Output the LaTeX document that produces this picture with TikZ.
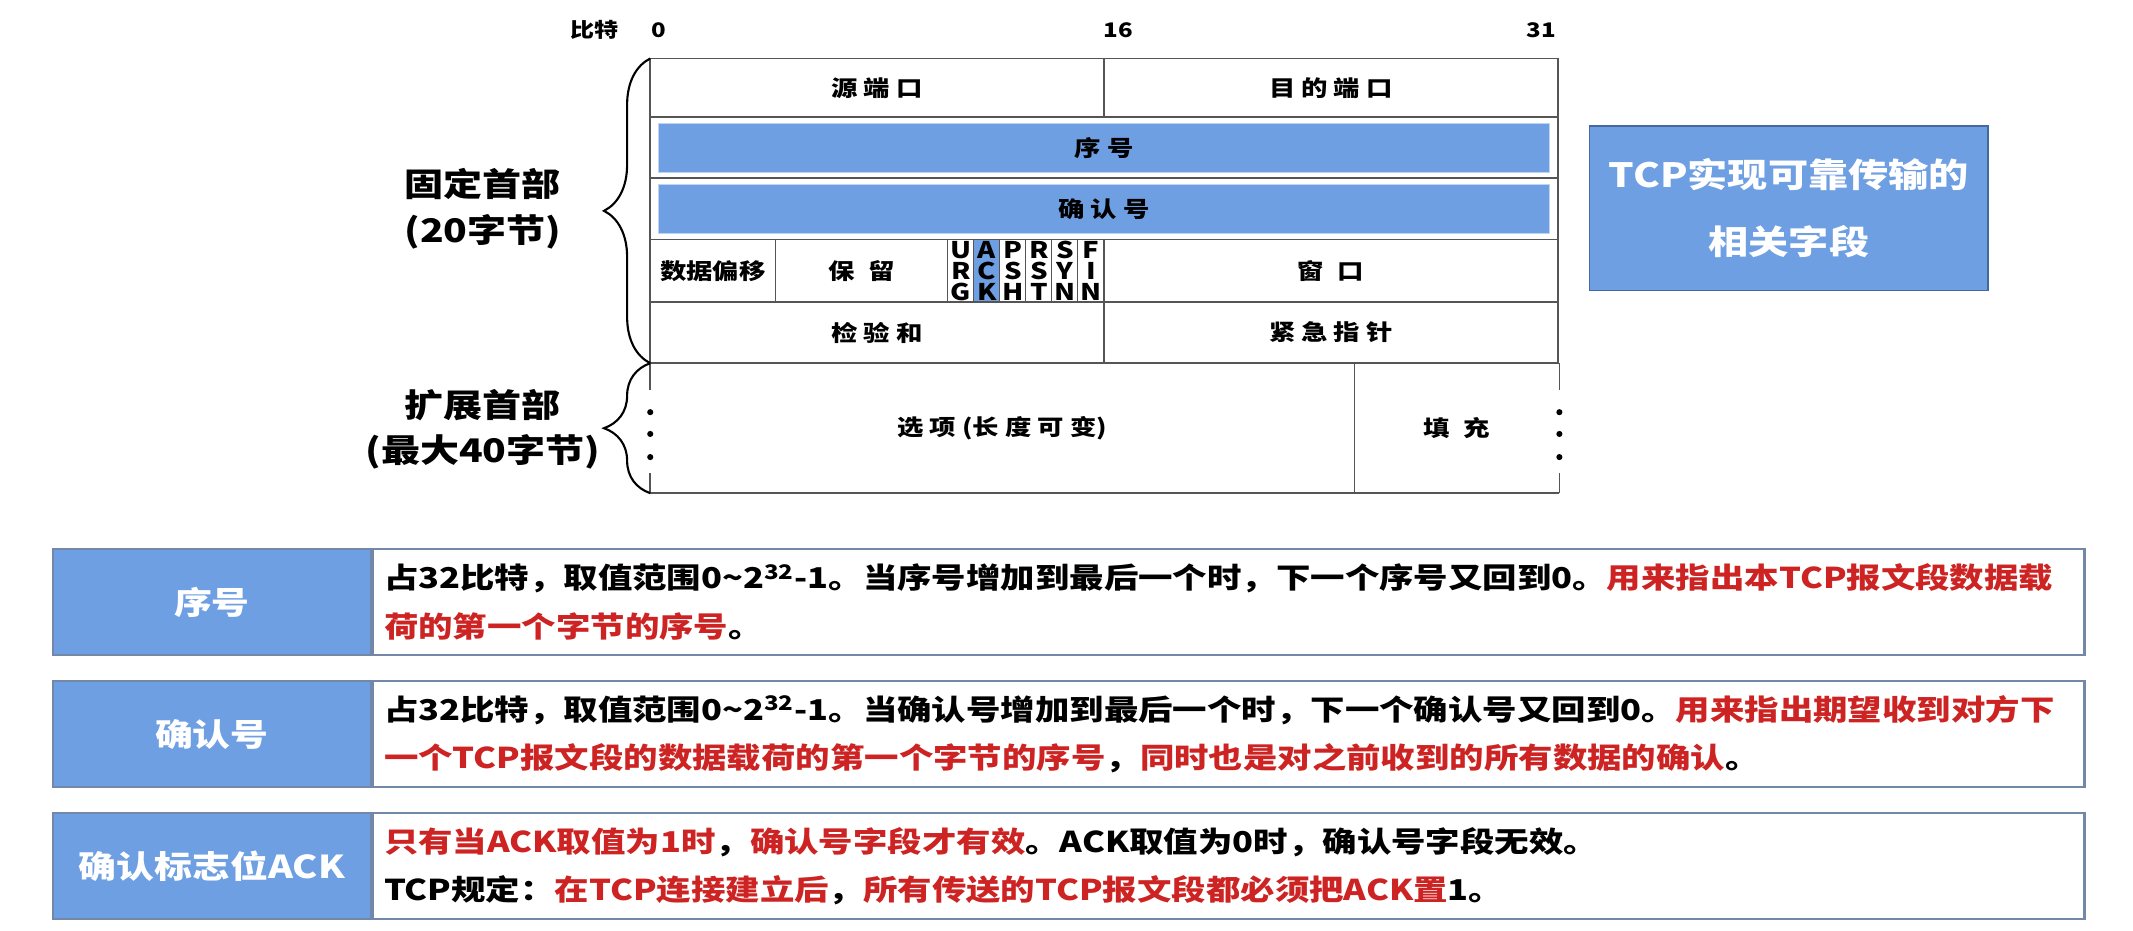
\documentclass[tikz,border=0pt]{standalone}
\usepackage{fontspec}
\setmainfont{Noto Sans CJK SC}[FakeStretch=1.2]
\usepackage{tikz}
\usetikzlibrary{
  positioning,
  decorations.pathreplacing
}
\definecolor{fieldblue}{RGB}{110, 159, 226}
\definecolor{boxedge}{RGB}{68, 104, 160}
\definecolor{rowedge}{RGB}{115, 135, 168}
\definecolor{linegray}{RGB}{85, 85, 85}
\definecolor{notered}{RGB}{205, 35, 35}
\newcommand{\keytext}[1]{\textcolor{notered}{#1}}
\tikzset{
fieldtext/.style={
  font=\bfseries\fontsize{11.5}{13}\selectfont,
  text=black
},
field/.style={
  draw=linegray,
  line width=0.8pt,
  inner sep=0pt,
  outer sep=0pt,
  minimum height=1.125cm,
  fieldtext
},
bluebar/.style={
  fill=fieldblue,
  draw=fieldblue!45,
  line width=0.6pt,
  inner sep=0pt,
  minimum width=16.38cm,
  minimum height=0.9cm,
  fieldtext
},
flag/.style={
  draw=linegray,
  line width=0.5pt,
  inner sep=0pt,
  outer sep=0pt,
  minimum width=0.478cm,
  minimum height=1.15cm,
  align=center,
  font=\bfseries\fontsize{12}{11}\selectfont
},
bitlabel/.style={
  font=\bfseries\fontsize{10.5}{12}\selectfont
},
bracelabel/.style={
  align=center,
  font=\bfseries\fontsize{17}{24}\selectfont
},
headbrace/.style={
  decorate,
  decoration={brace, amplitude=0.85cm},
  line width=1.1pt
},
infobox/.style={
  fill=fieldblue,
  draw=boxedge,
  line width=0.8pt,
  minimum width=7.325cm,
  minimum height=3.025cm,
  align=center,
  text=white,
  font=\bfseries\fontsize{17.5}{35}\selectfont
},
notelabel/.style={
  fill=fieldblue,
  draw=rowedge,
  line width=1.1pt,
  inner sep=0pt,
  minimum width=5.85cm,
  minimum height=1.95cm,
  anchor=north west,
  text=white,
  font=\bfseries\fontsize{16.5}{20}\selectfont
},
notetext/.style={
  fill=white,
  draw=rowedge,
  line width=1.1pt,
  inner xsep=0.2cm,
  inner ysep=0pt,
  minimum width=31.45cm,
  minimum height=1.95cm,
  text width=31.05cm,
  align=left,
  font=\bfseries\fontsize{15}{25.5}\selectfont
}
}

\begin{document}
\begin{tikzpicture}
  \useasboundingbox (0,0) rectangle (39.2,-17.1);

  % bit numbers
  \node[bitlabel] (bitname) at (10.93,-0.55) {比特};
  \node[bitlabel] (bitzero) at (12.1,-0.55) {0};
  \node[bitlabel] (bitmid) at (20.55,-0.55) {16};
  \node[bitlabel] (bitlast) at (28.33,-0.55) {31};

  % header rows
  \node[field, anchor=north west, minimum width=8.34cm, minimum height=1.075cm] (srcport) at (11.95,-1.075) {源 端 口};
  \node[field, right=0pt of srcport, minimum width=8.34cm, minimum height=1.075cm] (dstport) {目 的 端 口};

  \node[field, anchor=north west, minimum width=16.68cm] (seqrow) at (srcport.south west) {};
  \node[bluebar] (seqbar) at (seqrow.center) {序 号};

  \node[field, anchor=north west, minimum width=16.68cm] (ackrow) at (seqrow.south west) {};
  \node[bluebar] (ackbar) at (ackrow.center) {确 认 号};

  \node[field, anchor=north west, minimum width=2.3cm, minimum height=1.15cm] (offset) at (ackrow.south west) {数据偏移};
  \node[field, right=0pt of offset, minimum width=3.17cm, minimum height=1.15cm] (reserved) {保\hspace{0.6em}留};
  \foreach \a/\b/\c/\n/\fc [count=\i] in {U/R/G/urg/white, A/C/K/ack/fieldblue, P/S/H/psh/white, R/S/T/rst/white, S/Y/N/syn/white, F/I/N/fin/white}
    \node[flag, fill=\fc, anchor=north west, xshift={(\i-1)*0.478cm}] (\n) at (reserved.north east) {\a\\\b\\\c};
  \node[field, anchor=north west, minimum width=8.34cm, minimum height=1.15cm] (window) at (fin.north east) {窗\hspace{0.6em}口};

  \node[field, anchor=north west, minimum width=8.34cm] (cksum) at (offset.south west) {检 验 和};
  \node[field, right=0pt of cksum, minimum width=8.34cm] (urgptr) {紧 急 指 针};

  % options row with open sides
  \node[fieldtext, anchor=north west, inner sep=0pt, minimum width=12.925cm, minimum height=2.375cm] (options) at (cksum.south west) {选 项 (长 度 可 变)};
  \node[fieldtext, right=0pt of options, inner sep=0pt, minimum width=3.755cm, minimum height=2.375cm] (padding) {填\hspace{0.6em}充};
  \draw[linegray, line width=0.8pt] (options.south west) -- (padding.south east);
  \draw[linegray, line width=0.8pt] (options.north east) -- (options.south east);
  \foreach \side/\edge in {options/west, padding/east} {
    \draw[linegray, line width=0.8pt] (\side.north \edge) -- ([yshift=-0.5cm]\side.north \edge);
    \draw[linegray, line width=0.8pt] (\side.south \edge) -- ([yshift=0.375cm]\side.south \edge);
    \foreach \d in {0.9,1.3,1.725}
      \fill ([yshift=-\d cm]\side.north \edge) circle (1.6pt);
  }

  % braces
  \draw[headbrace] (cksum.south west) -- (srcport.north west);
  \draw[headbrace] (options.south west) -- (options.north west);
  \node[bracelabel] (fixedlabel) at (8.875,-3.83) {固定首部\\(20字节)};
  \node[bracelabel] (extlabel) at (8.875,-7.89) {扩展首部\\(最大40字节)};

  \node[infobox] (relbox) at (32.875,-3.83) {TCP实现可靠传输的\\相关字段};

  % notes
  \node[notelabel] (seqlabel) at (0.95,-10.075) {序号};
  \node[notetext, right=0pt of seqlabel] (seqnote) {占32比特，取值范围0\textasciitilde2\textsuperscript{32}-1。当序号增加到最后一个时，下一个序号又回到0。\keytext{用来指出本TCP报文段数据载}\\\keytext{荷的第一个字节的序号}。};

  \node[notelabel] (acklabel) at (0.95,-12.5) {确认号};
  \node[notetext, right=0pt of acklabel] (acknote) {占32比特，取值范围0\textasciitilde2\textsuperscript{32}-1。当确认号增加到最后一个时，下一个确认号又回到0。\keytext{用来指出期望收到对方下}\\\keytext{一个TCP报文段的数据载荷的第一个字节的序号}，\keytext{同时也是对之前收到的所有数据的确认}。};

  \node[notelabel] (flaglabel) at (0.95,-14.925) {确认标志位ACK};
  \node[notetext, right=0pt of flaglabel] (flagnote) {\keytext{只有当ACK取值为1时}，\keytext{确认号字段才有效}。ACK取值为0时，确认号字段无效。\\TCP规定：\keytext{在TCP连接建立后}，\keytext{所有传送的TCP报文段都必须把ACK置}1。};
\end{tikzpicture}
\end{document}
